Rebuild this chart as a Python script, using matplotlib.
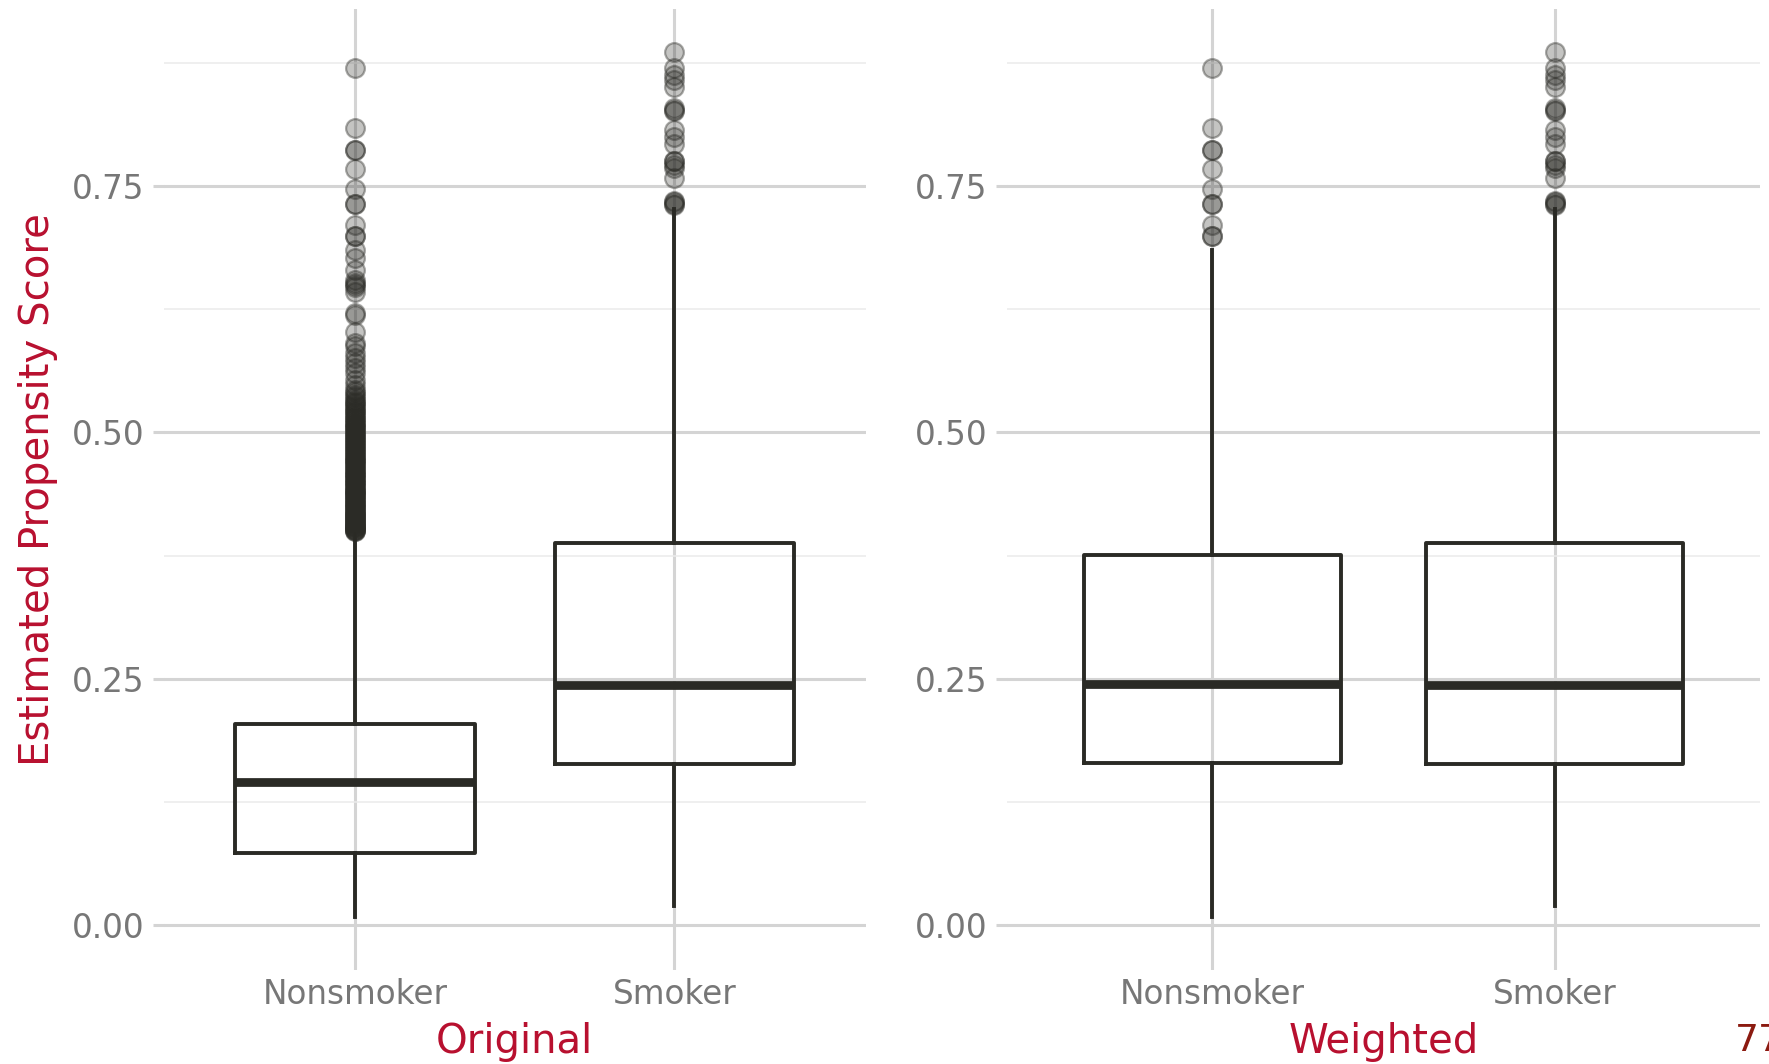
import matplotlib
matplotlib.use("Agg")
import matplotlib.pyplot as plt
from matplotlib.ticker import MultipleLocator

# ---- data -------------------------------------------------------------
categories = ["Nonsmoker", "Smoker"]
panel_titles = ["Original", "Weighted"]
y_ticks = [0.00, 0.25, 0.50, 0.75]
y_tick_labels = ["0.00", "0.25", "0.50", "0.75"]

# box summaries: (whisker low, Q1, median, Q3, whisker high)
orig_nonsmoker = [0.008, 0.073, 0.145, 0.204, 0.398]
orig_smoker = [0.019, 0.163, 0.244, 0.388, 0.727]
wt_nonsmoker = [0.008, 0.164, 0.245, 0.376, 0.685]
wt_smoker = [0.019, 0.163, 0.244, 0.388, 0.727]

orig_nonsmoker_out = [
    0.870, 0.809, 0.787, 0.787, 0.767, 0.747, 0.732, 0.732, 0.711, 0.699,
    0.699, 0.685, 0.677, 0.665, 0.655, 0.652, 0.650, 0.648, 0.643, 0.621,
    0.619, 0.602, 0.591, 0.588, 0.581, 0.576, 0.570, 0.565, 0.560, 0.553,
    0.548, 0.543, 0.541, 0.538, 0.536, 0.533, 0.531, 0.530, 0.528, 0.526,
    0.524, 0.522, 0.521, 0.519, 0.517, 0.515, 0.514, 0.512, 0.510, 0.509,
    0.507, 0.505, 0.504, 0.502, 0.500, 0.499, 0.497, 0.496, 0.494, 0.493,
    0.491, 0.490, 0.488, 0.487, 0.485, 0.484, 0.482, 0.481, 0.479, 0.478,
    0.476, 0.475, 0.473, 0.472, 0.471, 0.470, 0.468, 0.467, 0.465, 0.464,
    0.462, 0.461, 0.459, 0.458, 0.457, 0.456, 0.454, 0.453, 0.451, 0.450,
    0.449, 0.448, 0.446, 0.445, 0.443, 0.442, 0.441, 0.440, 0.438, 0.437,
    0.436, 0.435, 0.433, 0.432, 0.431, 0.430, 0.428, 0.427, 0.426, 0.425,
    0.424, 0.423, 0.421, 0.420, 0.419, 0.418, 0.417, 0.416, 0.415, 0.414,
    0.413, 0.412, 0.411, 0.410, 0.409, 0.408, 0.407, 0.406, 0.405, 0.404,
    0.404, 0.403, 0.402, 0.401, 0.401, 0.400, 0.400,
]
smoker_out = [
    0.886, 0.870, 0.863, 0.858, 0.851, 0.829, 0.827, 0.826, 0.807, 0.800,
    0.793, 0.776, 0.775, 0.771, 0.768, 0.758, 0.735, 0.734, 0.732, 0.731,
]
wt_nonsmoker_out = [0.870, 0.809, 0.787, 0.787, 0.767, 0.747, 0.732, 0.732,
                    0.711, 0.699, 0.699]

panels = [
    ([orig_nonsmoker, orig_smoker], [orig_nonsmoker_out, smoker_out]),
    ([wt_nonsmoker, wt_smoker], [wt_nonsmoker_out, smoker_out]),
]

# ---- style ------------------------------------------------------------
W, H = 1769, 1064
BOX = "#2a2a25"
ACCENT = "#b8102f"
TICK = "#777777"
GRID_MAJOR = "#d4d4d4"
GRID_MINOR = "#ebebeb"

plt.rcParams["font.family"] = ["DejaVu Sans"]

fig = plt.figure(figsize=(W / 100, H / 100), dpi=100)

bottom = 1 - 970 / H
top = 1 - 9 / H
axes_x = [(163.6, 866.0), (1007.0, 1760.0)]

for i, ((stats_rows, outs), (x0, x1)) in enumerate(zip(panels, axes_x)):
    ax = fig.add_axes([x0 / W, bottom, (x1 - x0) / W, top - bottom])
    stats = []
    for row, fl in zip(stats_rows, outs):
        lo, q1, med, q3, hi = row
        stats.append(dict(whislo=lo, q1=q1, med=med, q3=q3, whishi=hi,
                          fliers=fl))
    ax.bxp(
        stats, positions=[1, 2], widths=0.75, showcaps=False,
        boxprops=dict(color=BOX, linewidth=2.8),
        whiskerprops=dict(color=BOX, linewidth=2.8),
        medianprops=dict(color=BOX, linewidth=6.3, solid_capstyle="butt"),
        flierprops=dict(marker="o", markersize=13.5,
                        markerfacecolor=(0.17, 0.17, 0.15, 0.28),
                        markeredgecolor=(0.17, 0.17, 0.15, 0.40),
                        markeredgewidth=1.6, linestyle="none"),
        zorder=3,
    )
    ax.set_xlim(0.4, 2.6)
    ax.set_ylim(-0.0457, 0.9298)
    ax.set_xticks([1, 2])
    ax.set_xticklabels(categories)
    ax.set_yticks(y_ticks)
    ax.set_yticklabels(y_tick_labels)
    ax.yaxis.set_minor_locator(MultipleLocator(0.125))

    ax.grid(True, which="major", color=GRID_MAJOR, linewidth=2.2, zorder=0)
    ax.grid(True, which="minor", axis="y", color=GRID_MINOR, linewidth=1.1,
            zorder=0)
    ax.set_axisbelow(True)
    for s in ax.spines.values():
        s.set_visible(False)

    ax.tick_params(axis="y", which="major", length=8, width=2.2,
                   color=GRID_MAJOR, labelcolor=TICK, labelsize=23.5, pad=6)
    ax.tick_params(axis="y", which="minor", length=0)
    ax.tick_params(axis="x", which="major", length=0, labelcolor=TICK,
                   labelsize=23.5, pad=6)
    ax.set_xlabel(panel_titles[i], color=ACCENT, fontsize=29, labelpad=8)
    if i == 0:
        ax.set_ylabel("Estimated Propensity Score", color=ACCENT,
                      fontsize=29, labelpad=10)

fig.text(1735 / W, 1 - 1041 / H, "77", color="#8b1a10", fontsize=27,
         ha="left", va="center")

fig.savefig("out.png", dpi=100)
